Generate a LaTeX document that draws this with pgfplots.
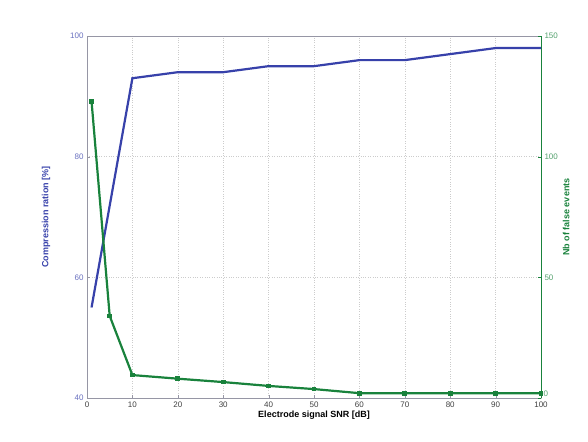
\documentclass[border=0pt]{standalone}
\usepackage{pgfplots}
\pgfplotsset{compat=1.18}
\usepackage{fontspec}
\setmainfont{Liberation Sans}

\definecolor{cblue}{RGB}{55,65,170}
\definecolor{cgreen}{RGB}{25,130,60}
\definecolor{axgray}{RGB}{150,150,165}

\begin{document}
\begin{tikzpicture}
\useasboundingbox (-87pt,-43pt) rectangle (501pt,398pt);
\begin{axis}[
    scale only axis,
    width=454pt, height=362pt,
    xmin=0, xmax=100, ymin=40, ymax=100,
    xtick={0,10,...,100},
    ytick={40,60,80,100},
    axis y line*=left,
    axis x line*=bottom,
    axis line style={axgray},
    tick style={axgray},
    tick align=inside,
    major tick length=3pt,
    grid=major,
    major grid style={gray!40, dotted, line width=0.4pt},
    ticklabel style={font=\footnotesize},
    yticklabel style={text=cblue!75},
    xticklabel style={text=black!75},
    /pgf/number format/assume math mode=true,
    xlabel={\textbf{Electrode signal SNR [dB]}},
    ylabel={\textbf{Compression ration [\%]}},
    xlabel style={font=\small, yshift=3pt},
    ylabel style={font=\small, text=cblue, yshift=13pt},
]
\draw[axgray] (axis cs:0,100) -- (axis cs:100,100);
\addplot[cblue, line width=2.2pt] coordinates {
  (1,55) (10,93) (20,94) (30,94) (40,95) (50,95) (60,96) (70,96) (80,97) (90,98) (100,98)
};
\end{axis}
\begin{axis}[
    scale only axis,
    width=454pt, height=362pt,
    xmin=0, xmax=100, ymin=0, ymax=150,
    ytick={50,100,150},
    extra y ticks={0},
    extra y tick style={yticklabel style={yshift=4pt, xshift=-1pt}},
    axis x line=none,
    axis y line*=right,
    axis line style={cgreen},
    tick style={cgreen},
    tick align=inside,
    major tick length=3pt,
    ticklabel style={font=\footnotesize},
    yticklabel style={text=cgreen!75},
    /pgf/number format/assume math mode=true,
    ylabel={\textbf{Nb of false events}},
    ylabel style={font=\small, text=cgreen, yshift=2pt},
]
\addplot[cgreen, line width=2.2pt, mark=square*, mark size=1.3pt] coordinates {
  (1,123) (5,34) (10,9.5) (20,8) (30,6.6) (40,5) (50,3.7) (60,2) (70,2) (80,2) (90,2) (100,2)
};
\end{axis}
\end{tikzpicture}
\end{document}
